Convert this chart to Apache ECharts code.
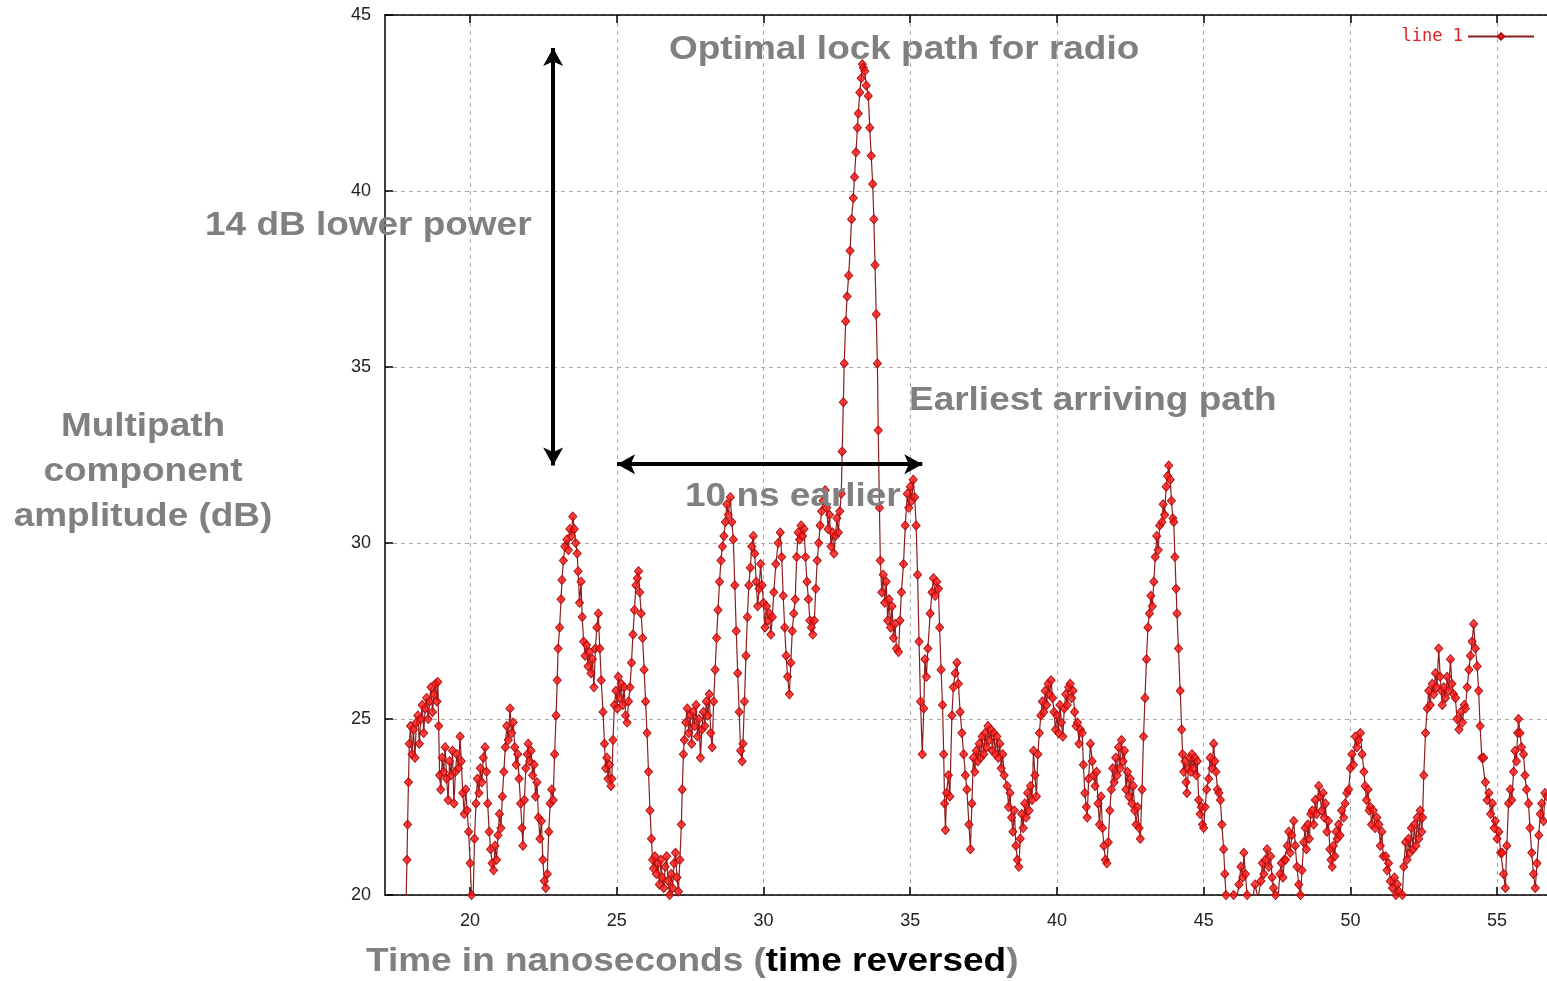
<!DOCTYPE html>
<html>
<head>
<meta charset="utf-8">
<script src="https://cdn.jsdelivr.net/npm/echarts@6/dist/echarts.min.js"></script>
<style>
html,body{margin:0;padding:0;background:#fff;}
#chart{width:1547px;height:981px;}
</style>
</head>
<body>
<div id="chart"></div>
<script>
// ---- data ----
const seriesName = 'line 1';
const xTickValues = [20, 25, 30, 35, 40, 45, 50, 55];
const yTickValues = [20, 25, 30, 35, 40, 45];
// [time (ns), amplitude (dB)]
const amplitudeSamples = [
[17.82,19.9],[17.85,21.0],[17.87,22.0],[17.9,23.2],[17.93,24.3],[17.97,24.8],[18.02,24.0],[18.07,24.7],[18.12,23.9],[18.17,24.9],
[18.22,25.1],[18.27,24.3],[18.32,25.0],[18.37,25.4],[18.42,24.6],[18.47,25.3],[18.52,25.6],[18.57,25.0],[18.62,25.5],[18.67,25.9],
[18.72,25.2],[18.77,25.7],[18.82,26.0],[18.87,25.5],[18.9,26.05],[18.93,24.8],[18.96,23.4],[19.0,23.0],[19.05,23.9],[19.1,23.5],
[19.15,24.2],[19.2,23.3],[19.25,22.7],[19.3,23.8],[19.35,23.4],[19.4,24.1],[19.45,22.6],[19.5,23.5],[19.55,24.0],[19.6,23.6],
[19.66,24.5],[19.7,23.8],[19.75,22.9],[19.8,22.3],[19.85,23.0],[19.9,22.4],[19.95,21.8],[20.0,20.9],[20.05,20.0],[20.1,19.8],
[20.15,21.6],[20.2,22.6],[20.25,23.3],[20.3,22.9],[20.35,23.6],[20.4,23.2],[20.45,23.9],[20.51,24.2],[20.56,23.5],[20.6,22.6],
[20.65,21.8],[20.7,21.3],[20.75,20.9],[20.8,20.7],[20.85,21.4],[20.9,21.0],[20.95,21.7],[21.0,22.3],[21.05,21.9],[21.1,22.8],
[21.15,23.5],[21.2,24.2],[21.25,24.8],[21.3,24.4],[21.36,25.3],[21.42,24.6],[21.47,24.9],[21.52,24.2],[21.57,23.7],[21.62,24.0],
[21.67,23.3],[21.72,22.6],[21.77,21.9],[21.8,21.4],[21.85,22.7],[21.9,23.6],[21.95,24.0],[21.98,24.3],[22.03,23.8],[22.08,24.1],
[22.13,23.4],[22.18,23.7],[22.23,22.8],[22.28,23.2],[22.33,22.2],[22.38,21.6],[22.43,22.1],[22.48,21.0],[22.53,20.4],[22.58,20.2],
[22.63,20.6],[22.68,21.8],[22.73,22.6],[22.78,23.0],[22.83,22.7],[22.88,24.0],[22.93,25.1],[22.97,26.1],[23.0,27.0],[23.05,27.6],
[23.1,28.4],[23.13,28.95],[23.18,29.5],[23.23,29.9],[23.3,30.1],[23.35,29.8],[23.4,30.4],[23.45,30.2],[23.5,30.75],[23.55,30.4],
[23.6,30.0],[23.65,29.7],[23.68,29.2],[23.73,28.3],[23.78,28.9],[23.82,27.9],[23.87,27.2],[23.92,26.8],[23.97,27.1],[24.02,26.5],
[24.07,26.9],[24.12,26.3],[24.17,26.7],[24.22,25.9],[24.27,27.0],[24.32,27.6],[24.37,28.0],[24.42,27.0],[24.47,26.1],[24.53,25.2],
[24.58,24.3],[24.62,23.6],[24.66,23.9],[24.7,23.3],[24.75,23.7],[24.8,23.1],[24.83,23.3],[24.87,24.4],[24.92,25.4],[24.97,25.8],
[25.02,25.3],[25.05,26.2],[25.1,25.6],[25.15,26.0],[25.2,25.4],[25.25,25.9],[25.3,25.1],[25.35,24.9],[25.4,25.5],[25.45,25.9],
[25.5,26.6],[25.55,27.4],[25.6,28.1],[25.65,28.8],[25.7,29.0],[25.74,29.2],[25.78,28.6],[25.83,28.0],[25.88,27.3],[25.93,26.4],
[25.98,25.5],[26.03,24.6],[26.08,23.5],[26.13,22.4],[26.18,21.6],[26.22,21.0],[26.25,20.75],[26.3,21.1],[26.35,20.6],[26.4,20.9],
[26.45,20.3],[26.5,21.0],[26.55,20.5],[26.6,20.2],[26.65,20.8],[26.7,21.1],[26.75,20.4],[26.8,20.0],[26.85,20.6],[26.9,20.2],
[26.95,20.9],[27.0,21.2],[27.05,20.5],[27.1,20.1],[27.15,21.0],[27.2,22.0],[27.23,23.0],[27.27,24.0],[27.3,24.4],[27.35,24.9],
[27.4,25.3],[27.45,24.6],[27.5,25.1],[27.55,24.3],[27.6,25.2],[27.65,24.8],[27.7,25.4],[27.75,24.5],[27.8,25.0],[27.85,23.9],
[27.9,24.7],[27.95,25.2],[28.0,24.8],[28.05,25.5],[28.1,25.1],[28.15,25.7],[28.2,24.6],[28.25,24.2],[28.3,25.5],[28.35,26.4],
[28.4,27.3],[28.45,28.1],[28.5,28.9],[28.55,29.5],[28.6,29.9],[28.65,30.2],[28.7,30.6],[28.75,31.1],[28.8,30.8],[28.87,31.3],
[28.92,30.6],[28.97,30.1],[29.02,28.8],[29.07,27.5],[29.12,26.3],[29.17,25.2],[29.22,24.1],[29.27,23.8],[29.3,24.3],[29.35,25.5],
[29.4,26.8],[29.45,27.9],[29.5,28.8],[29.55,29.3],[29.6,29.9],[29.65,30.2],[29.7,29.7],[29.75,28.9],[29.8,28.2],[29.85,28.7],
[29.9,29.4],[29.95,28.8],[30.0,28.3],[30.05,27.6],[30.1,28.2],[30.15,27.8],[30.2,28.0],[30.25,27.4],[30.3,27.9],[30.35,28.6],
[30.42,29.4],[30.5,30.0],[30.57,30.3],[30.62,29.6],[30.67,28.5],[30.72,27.6],[30.77,26.8],[30.82,26.2],[30.88,25.7],[30.93,26.6],
[30.98,27.5],[31.03,28.0],[31.08,28.4],[31.13,29.6],[31.18,30.3],[31.23,30.1],[31.28,30.5],[31.33,30.2],[31.38,30.4],[31.43,29.6],
[31.48,28.9],[31.53,28.4],[31.58,27.8],[31.63,27.6],[31.68,27.4],[31.73,27.8],[31.78,28.7],[31.83,29.5],[31.88,30.0],[31.93,30.5],
[31.98,30.9],[32.03,31.2],[32.1,31.5],[32.15,31.0],[32.2,30.4],[32.25,30.8],[32.3,29.9],[32.35,30.3],[32.4,29.7],[32.45,30.2],
[32.5,30.7],[32.55,30.3],[32.6,30.9],[32.65,31.4],[32.68,32.6],[32.72,34.0],[32.75,35.1],[32.8,36.3],[32.85,37.0],[32.9,37.6],
[32.95,38.3],[33.0,39.2],[33.06,39.8],[33.1,40.4],[33.15,41.1],[33.2,41.8],[33.23,42.2],[33.28,42.8],[33.33,43.2],[33.37,43.6],
[33.4,43.5],[33.45,43.4],[33.5,43.0],[33.57,42.7],[33.62,41.8],[33.67,41.0],[33.72,40.2],[33.76,39.2],[33.8,37.9],[33.84,36.5],
[33.88,35.1],[33.91,33.2],[33.95,31.0],[33.98,29.5],[34.03,28.6],[34.08,29.1],[34.13,28.3],[34.18,28.9],[34.23,27.8],[34.28,28.4],
[34.33,27.6],[34.38,28.2],[34.43,27.3],[34.48,27.7],[34.53,27.0],[34.6,26.9],[34.65,27.8],[34.7,28.6],[34.77,29.4],[34.83,30.5],
[34.9,31.4],[34.95,31.0],[35.0,31.6],[35.05,31.2],[35.1,31.8],[35.15,31.3],[35.2,30.5],[35.25,29.1],[35.3,27.2],[35.35,25.5],
[35.41,24.0],[35.46,25.3],[35.5,26.7],[35.55,26.2],[35.6,27.0],[35.68,28.0],[35.74,28.6],[35.79,29.0],[35.85,28.5],[35.9,28.9],
[35.96,28.7],[36.0,27.6],[36.05,26.4],[36.1,25.4],[36.14,24.0],[36.17,22.6],[36.2,21.85],[36.24,22.9],[36.3,23.4],[36.35,22.8],
[36.42,25.1],[36.47,25.9],[36.53,26.3],[36.59,26.6],[36.64,26.0],[36.7,25.2],[36.76,24.6],[36.82,24.0],[36.88,23.4],[36.93,23.0],
[37.0,22.0],[37.05,21.3],[37.1,22.6],[37.15,23.9],[37.2,23.5],[37.25,24.1],[37.3,23.8],[37.35,24.3],[37.4,23.9],[37.45,24.5],
[37.5,24.0],[37.55,24.6],[37.6,24.2],[37.65,24.8],[37.7,24.4],[37.75,24.7],[37.8,24.1],[37.85,24.6],[37.9,24.0],[37.95,24.5],
[38.0,23.9],[38.05,24.3],[38.1,23.6],[38.15,24.0],[38.2,23.4],[38.3,23.1],[38.35,22.5],[38.4,22.9],[38.45,22.2],[38.5,21.8],
[38.55,22.4],[38.6,21.4],[38.65,21.0],[38.7,20.8],[38.75,21.6],[38.8,22.3],[38.85,21.9],[38.9,22.6],[38.95,22.2],[39.0,22.9],
[39.05,22.4],[39.1,23.1],[39.15,22.7],[39.2,24.1],[39.25,23.4],[39.3,22.8],[39.35,24.0],[39.4,24.6],[39.45,25.1],[39.5,25.5],
[39.55,25.2],[39.6,25.8],[39.65,25.4],[39.7,26.0],[39.75,25.7],[39.8,26.1],[39.85,25.6],[39.9,25.2],[39.95,24.7],[40.0,25.1],
[40.05,24.6],[40.1,25.4],[40.15,24.9],[40.2,24.5],[40.25,25.3],[40.3,25.7],[40.35,25.4],[40.4,25.9],[40.45,26.0],[40.5,25.6],
[40.55,25.8],[40.6,25.2],[40.65,24.8],[40.7,24.9],[40.75,24.3],[40.8,24.7],[40.86,24.6],[40.9,23.7],[40.95,22.9],[41.0,22.5],
[41.03,22.2],[41.08,23.3],[41.14,24.3],[41.2,23.8],[41.25,23.4],[41.3,23.1],[41.35,23.5],[41.4,22.6],[41.45,22.0],[41.5,22.8],
[41.55,21.9],[41.6,21.4],[41.65,21.0],[41.7,20.9],[41.75,21.5],[41.8,22.4],[41.85,23.0],[41.9,23.6],[41.95,23.2],[42.0,23.9],
[42.05,23.4],[42.1,24.2],[42.15,23.6],[42.2,24.4],[42.25,23.8],[42.3,24.1],[42.35,23.0],[42.4,23.5],[42.45,22.8],[42.5,23.3],
[42.55,22.6],[42.6,23.1],[42.65,22.4],[42.7,22.0],[42.75,22.5],[42.8,21.9],[42.84,21.6],[42.9,23.0],[42.95,24.5],[43.0,25.6],
[43.05,26.7],[43.1,27.6],[43.15,28.0],[43.2,28.5],[43.25,28.2],[43.3,28.9],[43.35,29.6],[43.4,30.2],[43.45,29.8],[43.5,30.5],
[43.58,30.6],[43.62,31.1],[43.67,30.8],[43.72,31.6],[43.77,31.9],[43.81,32.2],[43.86,31.8],[43.9,31.2],[43.95,30.7],[43.98,30.6],
[44.02,29.6],[44.06,28.7],[44.09,28.0],[44.14,27.0],[44.2,25.8],[44.25,24.7],[44.28,24.0],[44.32,23.5],[44.36,23.8],[44.4,23.2],
[44.43,22.9],[44.48,23.6],[44.52,23.9],[44.56,23.5],[44.6,24.0],[44.65,23.6],[44.7,23.9],[44.75,23.4],[44.78,23.8],[44.83,22.7],
[44.88,22.3],[44.92,22.5],[44.96,22.0],[45.0,21.9],[45.05,22.5],[45.1,23.0],[45.17,23.3],[45.22,23.9],[45.28,23.6],[45.34,24.3],
[45.38,23.8],[45.42,23.5],[45.47,23.0],[45.52,22.9],[45.57,22.7],[45.62,22.0],[45.68,21.3],[45.72,20.6],[45.76,20.0],[45.85,19.6],
[45.95,19.8],[46.02,20.0],[46.1,19.7],[46.2,20.3],[46.27,20.8],[46.33,20.5],[46.37,21.2],[46.42,20.6],[46.48,20.0],[46.55,19.7],
[46.65,19.8],[46.75,20.3],[46.85,19.9],[46.95,20.4],[47.0,20.9],[47.05,20.6],[47.1,21.0],[47.16,21.3],[47.22,20.8],[47.28,21.1],
[47.33,20.5],[47.38,20.2],[47.45,20.0],[47.52,19.8],[47.6,20.6],[47.65,20.9],[47.7,20.5],[47.75,21.0],[47.79,21.0],[47.85,21.4],
[47.9,21.8],[47.95,21.2],[48.0,21.7],[48.07,22.1],[48.12,21.4],[48.18,20.8],[48.24,20.3],[48.3,20.0],[48.35,20.7],[48.41,21.5],
[48.46,21.9],[48.5,21.3],[48.55,22.0],[48.6,21.6],[48.65,22.3],[48.7,22.4],[48.75,22.0],[48.8,22.7],[48.85,22.3],[48.92,23.1],
[48.97,22.8],[49.02,22.4],[49.07,22.9],[49.11,22.2],[49.15,22.6],[49.2,21.8],[49.25,22.1],[49.3,21.3],[49.34,21.0],[49.38,20.8],
[49.42,21.4],[49.47,21.1],[49.51,21.8],[49.55,21.6],[49.6,22.0],[49.65,21.7],[49.7,22.4],[49.77,22.2],[49.82,22.6],[49.88,22.9],
[49.94,23.0],[50.0,23.6],[50.05,24.0],[50.1,23.7],[50.17,24.5],[50.22,24.2],[50.28,24.4],[50.34,24.6],[50.4,24.0],[50.46,23.5],
[50.5,23.1],[50.55,22.7],[50.6,23.0],[50.64,22.4],[50.68,22.5],[50.72,22.0],[50.78,22.4],[50.84,21.9],[50.9,22.2],[50.97,22.0],
[51.02,21.4],[51.07,21.8],[51.12,21.1],[51.2,21.1],[51.25,20.7],[51.3,20.9],[51.36,20.4],[51.43,20.2],[51.5,20.5],[51.55,20.0],
[51.6,20.3],[51.65,20.1],[51.72,19.8],[51.77,20.0],[51.82,20.8],[51.88,21.5],[51.93,21.0],[51.98,21.6],[52.03,21.2],[52.08,21.9],
[52.13,21.3],[52.18,22.0],[52.23,21.4],[52.28,22.2],[52.33,21.6],[52.38,22.4],[52.43,21.8],[52.46,22.2],[52.5,23.4],[52.56,24.6],
[52.62,25.3],[52.67,25.8],[52.72,25.4],[52.79,26.0],[52.84,25.7],[52.9,26.3],[52.95,25.9],[53.01,27.0],[53.06,26.2],[53.1,25.8],
[53.13,25.4],[53.18,25.9],[53.24,25.6],[53.3,26.2],[53.35,25.8],[53.41,26.7],[53.46,26.0],[53.52,25.7],[53.58,25.6],[53.63,25.0],
[53.7,24.7],[53.76,25.2],[53.82,24.9],[53.88,25.4],[53.92,25.3],[53.98,25.9],[54.04,26.4],[54.09,26.8],[54.15,27.2],[54.2,27.7],
[54.26,27.0],[54.32,26.5],[54.37,25.8],[54.42,24.8],[54.48,23.9],[54.54,23.9],[54.6,23.2],[54.66,22.7],[54.72,22.9],[54.78,22.3],
[54.84,22.6],[54.9,21.9],[54.94,22.1],[55.0,21.6],[55.06,21.8],[55.12,21.2],[55.17,21.2],[55.22,20.6],[55.28,20.2],[55.33,21.4],
[55.39,22.6],[55.45,23.0],[55.5,22.7],[55.56,23.5],[55.61,24.1],[55.66,23.8],[55.7,24.6],[55.73,25.0],[55.78,24.6],[55.83,24.2],
[55.9,24.0],[55.95,23.4],[56.0,23.0],[56.07,22.6],[56.12,21.9],[56.18,21.2],[56.24,20.6],[56.3,20.2],[56.36,20.9],[56.42,21.7],
[56.47,22.3],[56.52,22.6],[56.58,22.1],[56.63,22.9],[56.7,22.8],[56.8,23.2]
];
// annotation arrows in data coordinates: [t, dB]
const powerArrow = [[22.83, 44.06], [22.83, 32.2]];
const delayArrow = [[25.01, 32.24], [35.41, 32.24]];

// ---- chart ----
const chart = echarts.init(document.getElementById('chart'), null, {renderer: 'canvas'});
const gray = '#808080';
const annFont = 'Liberation Sans, Arial, sans-serif';
const sx = 1.12;
function ann(text, x, y) {
  return {
    type: 'text', x: x, y: y, scaleX: sx, z: 100,
    style: {text: text, x: 0, y: 0, fill: gray, font: 'bold 33px ' + annFont,
            textAlign: 'left', textVerticalAlign: 'middle'}
  };
}
const xMin = 17.1, xMax = 56.7;
const option = {
  animation: false,
  backgroundColor: '#fff',
  grid: {left: 385, top: 15, bottom: 86, right: 0, show: false},
  legend: {
    data: [seriesName], right: 12, top: 28, align: 'right', padding: 0,
    itemWidth: 66, itemHeight: 8, selectedMode: false,
    textStyle: {color: '#d22', fontSize: 17, fontFamily: 'DejaVu Sans Mono, monospace'}
  },
  xAxis: [{
    type: 'value', min: xMin, max: xMax, position: 'bottom',
    axisLine: {show: true, onZero: false, lineStyle: {color: '#000', width: 1.5}},
    axisTick: {show: true, inside: true, length: 8, customValues: xTickValues,
               lineStyle: {color: '#000', width: 1.5}},
    axisLabel: {customValues: xTickValues, margin: 17, color: '#222', fontSize: 18,
                fontFamily: 'Liberation Sans, Arial, sans-serif'},
    splitLine: {show: true, lineStyle: {color: '#aaa', type: [4, 4], width: 1}}
  }, {
    type: 'value', min: xMin, max: xMax, position: 'top',
    axisLine: {show: true, onZero: false, lineStyle: {color: '#000', width: 1.5}},
    axisTick: {show: true, inside: true, length: 8, customValues: xTickValues,
               lineStyle: {color: '#000', width: 1.5}},
    axisLabel: {show: false}, splitLine: {show: false}
  }],
  yAxis: {
    type: 'value', min: 20, max: 45, interval: 5,
    axisLine: {show: true, onZero: false, lineStyle: {color: '#000', width: 1.5}},
    axisTick: {show: true, inside: true, length: 8, lineStyle: {color: '#000', width: 1.5}},
    axisLabel: {margin: 14, color: '#222', fontSize: 18,
                fontFamily: 'Liberation Sans, Arial, sans-serif',
                formatter: v => (yTickValues.indexOf(v) >= 0 ? String(v) : '')},
    splitLine: {show: true, lineStyle: {color: '#aaa', type: [4, 4], width: 1}}
  },
  series: [{
    name: seriesName, type: 'line', data: amplitudeSamples,
    xAxisIndex: 0, clip: true, z: 3,
    showSymbol: true, showAllSymbol: true,
    symbol: 'diamond', symbolSize: [8, 9],
    lineStyle: {color: '#8b1f1f', width: 1.2},
    itemStyle: {color: 'rgba(255,20,20,0.8)', borderColor: '#b01010', borderWidth: 1},
    emphasis: {disabled: true}
  }, {
    name: 'arrows', type: 'line', data: [], xAxisIndex: 0, z: 6,
    markLine: {
      silent: true, symbol: ['arrow', 'arrow'], symbolSize: [15, 18],
      lineStyle: {color: '#000', width: 4, type: 'solid'},
      itemStyle: {color: '#000'},
      label: {show: false},
      data: [
        [{coord: powerArrow[0]}, {coord: powerArrow[1]}],
        [{coord: delayArrow[0]}, {coord: delayArrow[1]}]
      ]
    }
  }],
  graphic: [
    ann('Optimal lock path for radio', 669, 50),
    ann('14 dB lower power', 205, 226),
    ann('Earliest arriving path', 909, 401),
    ann('10 ns earlier', 685, 497),
    {
      type: 'text', x: 143, y: 472, scaleX: sx, z: 100,
      style: {text: 'Multipath\ncomponent\namplitude (dB)', x: 0, y: 0, fill: gray,
              font: 'bold 33px ' + annFont, textAlign: 'center', textVerticalAlign: 'middle',
              lineHeight: 45}
    },
    {
      type: 'text', x: 366, y: 962, scaleX: sx, z: 100,
      style: {
        text: '{g|Time in nanoseconds (}{b|time reversed}{g|)}', x: 0, y: 0,
        textAlign: 'left', textVerticalAlign: 'middle',
        rich: {
          g: {fill: gray, color: gray, fontWeight: 'bold', fontSize: 33, fontFamily: annFont},
          b: {fill: '#000', color: '#000', fontWeight: 'bold', fontSize: 33, fontFamily: annFont}
        }
      }
    }
  ]
};
chart.setOption(option);
</script>
</body>
</html>
